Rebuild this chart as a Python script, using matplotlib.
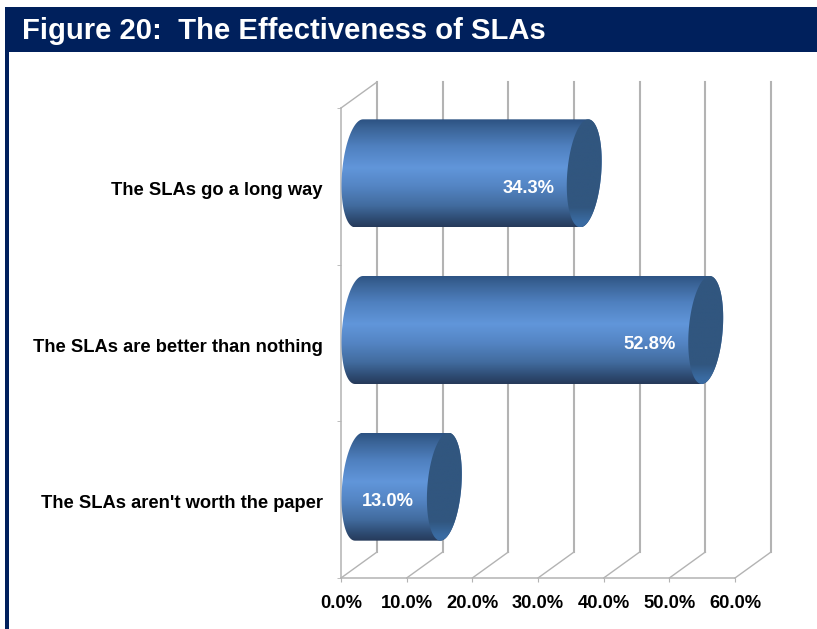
import numpy as np
import matplotlib
matplotlib.use("Agg")
import matplotlib.pyplot as plt
from matplotlib.colors import LinearSegmentedColormap
from matplotlib.patches import Polygon, Rectangle
from matplotlib.transforms import ScaledTranslation

plt.rcParams['font.family'] = ['Liberation Sans', 'DejaVu Sans']
plt.rcParams['font.weight'] = 'bold'

title = "Figure 20:  The Effectiveness of SLAs"
categories = ["The SLAs go a long way", "The SLAs are better than nothing", "The SLAs aren't worth the paper"]
values = [34.3, 52.8, 13.0]
x_ticks = [0, 10, 20, 30, 40, 50, 60]

W, H = 817, 629
NAVY = "#00205c"
GRID = "#b3b3b3"

fig = plt.figure(figsize=(W / 100, H / 100), dpi=100, facecolor="white")
ax = fig.add_axes([341 / W, (H - 578) / H, 394 / W, 470 / H])
ax.set_xlim(0, 60)
ax.set_ylim(2.5, -0.5)

# pixel sizes turned into data units
ux = 60 / 394
uy = 3 / 470
depth_x = 36 * ux
depth_y = 26 * uy
bar_h = 108 * uy
cap_a = 17 * ux
cap_s = 4 * ux

# title band and left border
fig.add_artist(Rectangle((5 / W, (H - 52) / H), (W - 5) / W, 45 / H, transform=fig.transFigure, color=NAVY, lw=0))
fig.add_artist(Rectangle((5 / W, 0), 4 / W, (H - 52) / H, transform=fig.transFigure, color=NAVY, lw=0))
fig.text(22 / W, (H - 31) / H, title, color="white", fontsize=21.1, fontweight="bold", va="center", ha="left")

# back wall lines and floor slants
for t in x_ticks:
    ax.plot([t + depth_x, t + depth_x], [2.5 - depth_y, -0.5 - depth_y], color=GRID, lw=1.5, clip_on=False, zorder=1)
    ax.plot([t, t + depth_x], [2.5, 2.5 - depth_y], color=GRID, lw=1.0, clip_on=False, zorder=1)
ax.plot([0, depth_x], [-0.5, -0.5 - depth_y], color=GRID, lw=1.0, clip_on=False, zorder=1)

# axes
for side in ["top", "right"]:
    ax.spines[side].set_visible(False)
for side in ["left", "bottom"]:
    ax.spines[side].set_color(GRID)
    ax.spines[side].set_linewidth(1.1)
ax.set_xticks(x_ticks)
ax.set_xticklabels([f"{t:.1f}%" for t in x_ticks], fontsize=13.2, fontweight="bold", color="black")
ax.set_yticks(range(len(categories)))
ax.set_yticklabels(categories, fontsize=13.2, fontweight="bold", color="black")
ax.set_yticks([-0.5, 0.5, 1.5, 2.5], minor=True)
ax.tick_params(axis="x", length=3, color=GRID, pad=9)
ax.tick_params(axis="y", which="major", length=0, pad=13)
ax.tick_params(axis="y", which="minor", length=3, color=GRID)

# category labels sit a little under the category centre
label_shift = ScaledTranslation(0, -2 / 100, fig.dpi_scale_trans)
for lab in ax.get_yticklabels():
    lab.set_transform(lab.get_transform() + label_shift)

body_cmap = LinearSegmentedColormap.from_list("cyl", [
    (0.0, "#2c5282"), (0.08, "#3a6396"), (0.25, "#4f80bf"), (0.45, "#6196da"),
    (0.62, "#5485c4"), (0.8, "#426c9f"), (0.92, "#2f4d75"), (1.0, "#263a5a"),
])
cap_cmap = LinearSegmentedColormap.from_list("cap", [
    (0.0, "#31567f"), (0.82, "#31567f"), (0.95, "#3a6ba2"), (1.0, "#3a6ba2"),
])
grad = np.linspace(0, 1, 256).reshape(-1, 1)


def ellipse_points(cx, cy, t):
    # skewed ellipse for the cylinder ends, y axis is inverted
    return np.column_stack([cx + cap_a * np.cos(t) + cap_s * np.sin(t), cy - bar_h / 2 * np.sin(t)])


for i, v in enumerate(values):
    cy = i - depth_y / 2
    x0 = depth_x / 2
    x1 = v + depth_x / 2
    left = ellipse_points(x0, cy, np.radians(np.linspace(90, 270, 60)))
    right = ellipse_points(x1, cy, np.radians(np.linspace(270, 450, 60)))
    outline = Polygon(np.vstack([left, right]), closed=True, fc="none", lw=0)
    ax.add_patch(outline)
    im = ax.imshow(grad, cmap=body_cmap, aspect="auto", origin="upper", zorder=3,
                   extent=(0, x1 + 2 * cap_a, cy + bar_h / 2, cy - bar_h / 2))
    im.set_clip_path(outline)
    cap = Polygon(ellipse_points(x1, cy, np.radians(np.linspace(0, 360, 120))), closed=True, fc="none", lw=0)
    ax.add_patch(cap)
    cap_im = ax.imshow(grad, cmap=cap_cmap, aspect="auto", origin="upper", zorder=4,
                       extent=(v, x1 + 2 * cap_a, cy + bar_h / 2, cy - bar_h / 2))
    cap_im.set_clip_path(cap)
    ax.annotate(f"{v:.1f}%", (v, i), xytext=(-38 * 0.72, -1.4), textcoords="offset points", color="white",
                fontsize=13.2, fontweight="bold", ha="center", va="center", zorder=5)

ax.set_xlim(0, 60)
ax.set_ylim(2.5, -0.5)

fig.savefig("out.png", dpi=100)
